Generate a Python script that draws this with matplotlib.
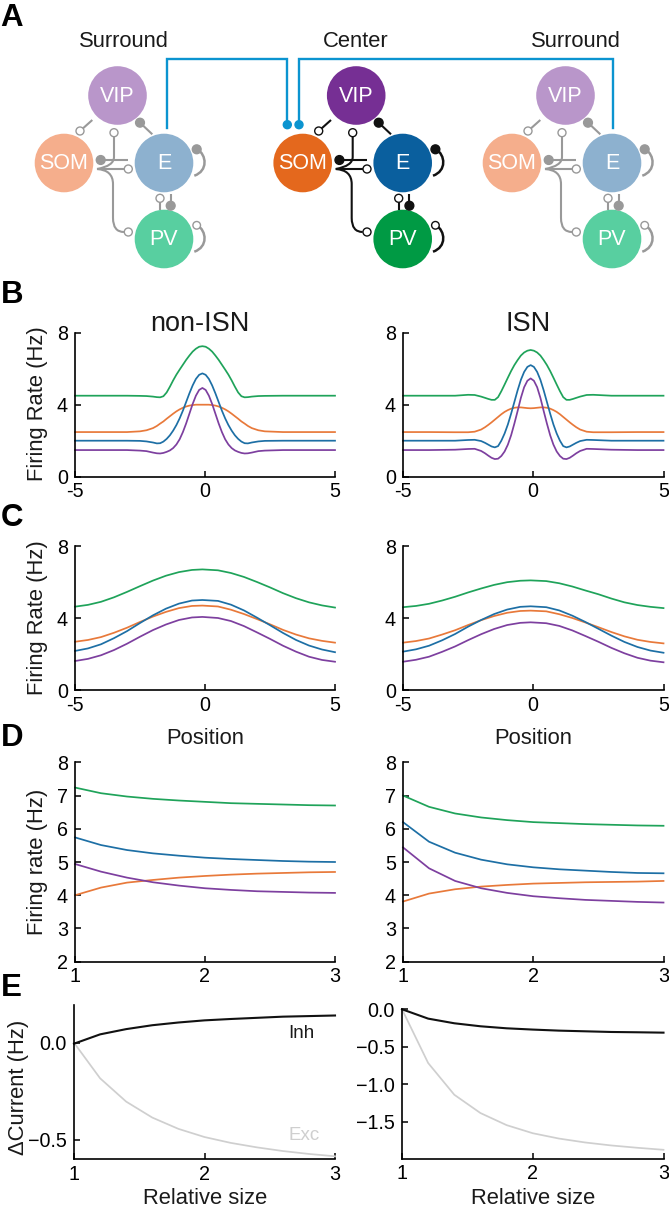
import matplotlib
matplotlib.use('Agg')
import matplotlib.pyplot as plt
from matplotlib.patches import Circle, PathPatch
from matplotlib.path import Path

plt.rcParams['font.family'] = ['Liberation Sans', 'DejaVu Sans']
plt.rcParams['axes.unicode_minus'] = False

W, H = 669, 1210

GREEN = '#1fa35a'
BLUE = '#1d6fa5'
ORANGE = '#e8793a'
PURPLE = '#7d3f9f'

# position profiles, panel B
pos_b = [-5, -4, -3, -2.5, -2.25, -2, -1.85, -1.725, -1.6, -1.475, -1.35, -1.225, -1.1,
         -0.975, -0.85, -0.725, -0.6, -0.475, -0.35, -0.225, -0.1,
         0.025, 0.15, 0.275, 0.4, 0.525, 0.65, 0.775, 0.9, 1.025, 1.15, 1.275, 1.4,
         1.525, 1.65, 1.8, 2.05, 2.3, 3, 4, 5]
b_non_green = [4.5, 4.5, 4.5, 4.49, 4.48, 4.45, 4.42, 4.41, 4.47, 4.68, 5.0, 5.35, 5.67,
               5.95, 6.22, 6.49, 6.73, 6.95, 7.11, 7.22, 7.25,
               7.22, 7.11, 6.95, 6.73, 6.49, 6.22, 5.95, 5.67, 5.35, 5.0, 4.68, 4.47,
               4.41, 4.42, 4.45, 4.48, 4.49, 4.5, 4.5, 4.5]
b_non_blue = [2.0, 2.0, 2.0, 1.99, 1.96, 1.9, 1.85, 1.86, 1.95, 2.1, 2.3, 2.56, 2.87,
              3.24, 3.67, 4.15, 4.63, 5.07, 5.43, 5.66, 5.74,
              5.66, 5.43, 5.07, 4.63, 4.15, 3.67, 3.24, 2.87, 2.56, 2.3, 2.1, 1.95,
              1.86, 1.85, 1.9, 1.96, 1.99, 2.0, 2.0, 2.0]
b_non_purple = [1.48, 1.48, 1.48, 1.45, 1.42, 1.34, 1.3, 1.29, 1.32, 1.38, 1.46, 1.59, 1.79,
                2.08, 2.48, 2.96, 3.5, 4.04, 4.5, 4.82, 4.93,
                4.82, 4.5, 4.04, 3.5, 2.96, 2.48, 2.08, 1.79, 1.59, 1.46, 1.38, 1.32,
                1.29, 1.3, 1.34, 1.42, 1.45, 1.48, 1.48, 1.48]
b_non_orange = [2.48, 2.48, 2.48, 2.52, 2.58, 2.7, 2.82, 2.95, 3.07, 3.22, 3.36, 3.5, 3.63,
                3.74, 3.83, 3.9, 3.95, 3.98, 4.0, 4.0, 4.0,
                4.0, 4.0, 3.98, 3.95, 3.9, 3.83, 3.74, 3.63, 3.5, 3.36, 3.22, 3.07,
                2.95, 2.82, 2.7, 2.58, 2.52, 2.48, 2.48, 2.48]
b_isn_green = [4.5, 4.5, 4.5, 4.55, 4.54, 4.45, 4.38, 4.32, 4.27, 4.27, 4.42, 4.75, 5.12,
               5.5, 5.87, 6.2, 6.48, 6.73, 6.9, 7.0, 7.04,
               7.0, 6.9, 6.73, 6.48, 6.2, 5.87, 5.5, 5.12, 4.75, 4.42, 4.27, 4.27,
               4.32, 4.38, 4.45, 4.54, 4.55, 4.5, 4.5, 4.5]
b_isn_blue = [2.0, 2.0, 2.0, 2.04, 2.05, 1.98, 1.88, 1.78, 1.68, 1.63, 1.7, 2.0, 2.4,
              2.9, 3.5, 4.15, 4.8, 5.38, 5.82, 6.1, 6.2,
              6.1, 5.82, 5.38, 4.8, 4.15, 3.5, 2.9, 2.4, 2.0, 1.7, 1.63, 1.68,
              1.78, 1.88, 1.98, 2.05, 2.04, 2.0, 2.0, 2.0]
b_isn_purple = [1.48, 1.48, 1.5, 1.54, 1.55, 1.43, 1.3, 1.17, 1.05, 0.98, 1.0, 1.15, 1.4,
                1.78, 2.3, 2.95, 3.65, 4.38, 4.97, 5.33, 5.46,
                5.33, 4.97, 4.38, 3.65, 2.95, 2.3, 1.78, 1.4, 1.15, 1.0, 0.98, 1.05,
                1.17, 1.3, 1.43, 1.55, 1.54, 1.5, 1.48, 1.48]
b_isn_orange = [2.48, 2.48, 2.47, 2.47, 2.5, 2.62, 2.75, 2.88, 3.02, 3.17, 3.32, 3.47, 3.6,
                3.7, 3.78, 3.83, 3.85, 3.85, 3.83, 3.81, 3.8,
                3.81, 3.83, 3.85, 3.85, 3.83, 3.78, 3.7, 3.6, 3.47, 3.32, 3.17, 3.02,
                2.88, 2.75, 2.62, 2.5, 2.47, 2.47, 2.48, 2.48]

# position profiles, panel C
pos_c = [-5, -4.5, -4, -3.5, -3, -2.5, -2, -1.5, -1, -0.5, -0.1,
         0.5, 1, 1.5, 2, 2.5, 3, 3.5, 4, 4.5, 5]
c_non_green = [4.63, 4.73, 4.9, 5.15, 5.45, 5.77, 6.08, 6.35, 6.55, 6.67, 6.7,
               6.65, 6.5, 6.28, 6.0, 5.7, 5.38, 5.1, 4.87, 4.7, 4.58]
c_non_blue = [2.17, 2.31, 2.54, 2.88, 3.27, 3.72, 4.15, 4.52, 4.8, 4.97, 5.0,
              4.95, 4.74, 4.42, 4.02, 3.6, 3.17, 2.78, 2.47, 2.25, 2.1]
c_non_orange = [2.68, 2.78, 2.94, 3.18, 3.46, 3.78, 4.08, 4.34, 4.55, 4.67, 4.69,
                4.64, 4.46, 4.22, 3.94, 3.65, 3.34, 3.08, 2.87, 2.73, 2.63]
c_non_purple = [1.61, 1.73, 1.93, 2.22, 2.57, 2.96, 3.33, 3.64, 3.89, 4.03, 4.06,
                4.0, 3.83, 3.55, 3.2, 2.84, 2.46, 2.13, 1.85, 1.67, 1.57]
c_isn_green = [4.6, 4.67, 4.79, 4.97, 5.18, 5.42, 5.64, 5.84, 5.99, 6.07, 6.09,
               6.05, 5.93, 5.75, 5.53, 5.32, 5.08, 4.87, 4.72, 4.62, 4.55]
c_isn_blue = [2.13, 2.26, 2.46, 2.76, 3.11, 3.52, 3.89, 4.22, 4.47, 4.62, 4.65,
              4.6, 4.42, 4.13, 3.78, 3.4, 3.02, 2.67, 2.39, 2.19, 2.07]
c_isn_orange = [2.63, 2.72, 2.86, 3.08, 3.32, 3.61, 3.88, 4.11, 4.29, 4.39, 4.41,
                4.37, 4.21, 4.0, 3.75, 3.49, 3.22, 2.98, 2.79, 2.67, 2.59]
c_isn_purple = [1.57, 1.68, 1.85, 2.12, 2.42, 2.77, 3.1, 3.39, 3.61, 3.73, 3.76,
                3.71, 3.56, 3.31, 3.0, 2.68, 2.34, 2.04, 1.79, 1.63, 1.54]

# relative size curves, panels D and E
size = [1, 1.2, 1.4, 1.6, 1.8, 2, 2.2, 2.4, 2.6, 2.8, 3]
d_non_green = [7.24, 7.07, 6.97, 6.9, 6.85, 6.81, 6.77, 6.75, 6.73, 6.71, 6.7]
d_non_blue = [5.74, 5.51, 5.36, 5.26, 5.19, 5.13, 5.09, 5.06, 5.03, 5.01, 5.0]
d_non_purple = [4.94, 4.71, 4.53, 4.39, 4.29, 4.21, 4.16, 4.12, 4.1, 4.08, 4.07]
d_non_orange = [4.0, 4.23, 4.38, 4.46, 4.53, 4.58, 4.62, 4.65, 4.67, 4.69, 4.7]
d_isn_green = [7.0, 6.66, 6.46, 6.34, 6.26, 6.2, 6.17, 6.14, 6.12, 6.1, 6.09]
d_isn_blue = [6.2, 5.61, 5.28, 5.07, 4.93, 4.84, 4.78, 4.74, 4.7, 4.67, 4.66]
d_isn_purple = [5.44, 4.81, 4.43, 4.21, 4.07, 3.97, 3.91, 3.86, 3.83, 3.8, 3.78]
d_isn_orange = [3.81, 4.05, 4.18, 4.26, 4.31, 4.35, 4.37, 4.39, 4.4, 4.41, 4.43]

e_non_inh = [-0.005, 0.043, 0.07, 0.09, 0.104, 0.115, 0.122, 0.128, 0.134, 0.137, 0.14]
e_non_exc = [0, -0.183, -0.303, -0.385, -0.443, -0.485, -0.515, -0.538, -0.557, -0.572, -0.584]
e_isn_inh = [0, -0.125, -0.187, -0.227, -0.254, -0.271, -0.285, -0.294, -0.303, -0.307, -0.312]
e_isn_exc = [0, -0.717, -1.14, -1.384, -1.545, -1.653, -1.724, -1.776, -1.816, -1.847, -1.874]


fig = plt.figure(figsize=(W / 100, H / 100), dpi=100)

# overlay in pixel coordinates for the diagram and free text
bg = fig.add_axes([0, 0, 1, 1])
bg.set_xlim(0, W)
bg.set_ylim(H, 0)
bg.axis('off')


def make_axes(left, right, top, bottom):
    ax = fig.add_axes([left / W, 1 - bottom / H, (right - left) / W, (bottom - top) / H])
    ax.patch.set_alpha(0)
    ax.spines['top'].set_visible(False)
    ax.spines['right'].set_visible(False)
    ax.spines['left'].set_linewidth(1.2)
    ax.spines['bottom'].set_linewidth(1.2)
    ax.tick_params(axis='y', direction='in', length=4, width=1.1, labelsize=14.2, pad=5)
    ax.tick_params(axis='x', direction='in', length=4, width=1.1, labelsize=14.2, pad=4)
    return ax


def draw_four(ax, x, green, blue, orange, purple):
    ax.plot(x, green, color=GREEN, lw=1.25, clip_on=False)
    ax.plot(x, orange, color=ORANGE, lw=1.25, clip_on=False)
    ax.plot(x, blue, color=BLUE, lw=1.25, clip_on=False)
    ax.plot(x, purple, color=PURPLE, lw=1.25, clip_on=False)


LEFT_X = (75, 335)
RIGHT_X = (403, 663.5)

# panel B
ax = make_axes(LEFT_X[0], LEFT_X[1], 332.7, 476.7)
draw_four(ax, pos_b, b_non_green, b_non_blue, b_non_orange, b_non_purple)
ax.set_xlim(-5, 5)
ax.set_ylim(0, 8)
ax.set_xticks([-5, 0, 5])
ax.set_yticks([0, 4, 8])

ax = make_axes(RIGHT_X[0], RIGHT_X[1], 332.7, 476.7)
draw_four(ax, pos_b, b_isn_green, b_isn_blue, b_isn_orange, b_isn_purple)
ax.set_xlim(-5, 5)
ax.set_ylim(0, 8)
ax.set_xticks([-5, 0, 5])
ax.set_yticks([0, 4, 8])

# panel C
ax = make_axes(LEFT_X[0], LEFT_X[1], 546, 690)
draw_four(ax, pos_c, c_non_green, c_non_blue, c_non_orange, c_non_purple)
ax.set_xlim(-5, 5)
ax.set_ylim(0, 8)
ax.set_xticks([-5, 0, 5])
ax.set_yticks([0, 4, 8])

ax = make_axes(RIGHT_X[0], RIGHT_X[1], 546, 690)
draw_four(ax, pos_c, c_isn_green, c_isn_blue, c_isn_orange, c_isn_purple)
ax.set_xlim(-5, 5)
ax.set_ylim(0, 8)
ax.set_xticks([-5, 0, 5])
ax.set_yticks([0, 4, 8])

# panel D
ax = make_axes(LEFT_X[0], LEFT_X[1], 762.3, 961.7)
draw_four(ax, size, d_non_green, d_non_blue, d_non_orange, d_non_purple)
ax.set_xlim(1, 3)
ax.set_ylim(2, 8)
ax.set_xticks([1, 2, 3])
ax.set_yticks([2, 3, 4, 5, 6, 7, 8])

ax = make_axes(RIGHT_X[0], RIGHT_X[1], 762.3, 961.7)
draw_four(ax, size, d_isn_green, d_isn_blue, d_isn_orange, d_isn_purple)
ax.set_xlim(1, 3)
ax.set_ylim(2, 8)
ax.set_xticks([1, 2, 3])
ax.set_yticks([2, 3, 4, 5, 6, 7, 8])

# panel E
ax = make_axes(LEFT_X[0] - 1, LEFT_X[1], 1005, 1159)
ax.plot(size, e_non_exc, color='#cfcfcf', lw=1.25, clip_on=False)
ax.plot(size, e_non_inh, color='#111111', lw=1.5, clip_on=False)
ax.set_xlim(1, 3)
ax.set_ylim(-0.598, 0.194)
ax.set_xticks([1, 2, 3])
ax.set_yticks([-0.5, 0])
ax.set_yticklabels(['\u22120.5', '0.0'])

ax = make_axes(RIGHT_X[0] - 1, RIGHT_X[1], 1008.5, 1158.5)
ax.plot(size, e_isn_exc, color='#cfcfcf', lw=1.25, clip_on=False)
ax.plot(size, e_isn_inh, color='#111111', lw=1.5, clip_on=False)
ax.set_xlim(1, 3)
ax.set_ylim(-1.99, 0.01)
ax.set_xticks([1, 2, 3])
ax.set_yticks([-1.5, -1, -0.5, 0])
ax.set_yticklabels(['\u22121.5', '\u22121.0', '\u22120.5', '0.0'])


# free text
def label(x, y, s, size=15.8, **kw):
    kw.setdefault('color', '#1a1a1a')
    bg.text(x, y, s, fontsize=size, ha='center', va='center', **kw)


for s, x, y in [('A', 12, 18), ('B', 12, 295), ('C', 12, 518), ('D', 12, 738), ('E', 11, 988)]:
    label(x, y, s, size=22.5, fontweight='bold', color='black')

label(124, 41.5, 'Surround')
label(356, 41.5, 'Center')
label(576, 41.5, 'Surround')
label(200, 324, 'non-ISN', size=19.5)
label(528, 324, 'ISN', size=19.5)
label(205, 738, 'Position')
label(533, 738, 'Position')
label(205, 1198, 'Relative size')
label(533, 1198, 'Relative size')
label(38, 404, 'Firing Rate (Hz)', rotation=90)
label(38, 617.5, 'Firing Rate (Hz)', rotation=90)
label(38, 862, 'Firing rate (Hz)', rotation=90)
label(19, 1087, '\u0394Current (Hz)', rotation=90)
label(301.5, 1034, 'Inh', size=13.5)
label(304, 1136, 'Exc', size=13.5, color='#cfcfcf')


# circuit diagram, group offset from the left surround
def dot(x, y, color, filled=True, r=4.0):
    face = color if filled else 'white'
    bg.add_patch(Circle((x, y), r, facecolor=face, edgecolor=color, lw=1.0, zorder=5))


def wire(verts, codes, color, lw=1.5):
    bg.add_patch(PathPatch(Path(verts, codes), facecolor='none', edgecolor=color, lw=lw,
                           capstyle='butt', zorder=4))


def straight(x0, y0, x1, y1, color, lw=1.5):
    wire([(x0, y0), (x1, y1)], [Path.MOVETO, Path.LINETO], color, lw)


def self_loop(dx, dy, color, filled):
    y = 163 + dy
    wire([(194.3 + dx, y + 12.7), (208 + dx, y + 8), (207 + dx, y - 8), (197 + dx, y - 14)],
         [Path.MOVETO, Path.CURVE4, Path.CURVE4, Path.CURVE4], color, 1.8)
    dot(196.7 + dx, y - 13.7, color, filled, 4.4 if filled else 3.8)


def circuit(dx, fills, wire_color):
    for name, x, y, c in [('VIP', 117.5, 95.5, fills[0]), ('SOM', 64, 163, fills[1]),
                          ('E', 164, 163, fills[2]), ('PV', 164, 239, fills[3])]:
        bg.add_patch(Circle((x + dx, y), 29.3, facecolor=c, edgecolor='none', zorder=3))
        bg.text(x + dx, y + 0.5, name, color='white', fontsize=15.5, ha='center', va='center', zorder=6)

    # VIP to SOM, E to VIP
    straight(92.3 + dx, 120, 80 + dx, 131, wire_color)
    dot(80 + dx, 131, wire_color, False)
    straight(152.3 + dx, 134.3, 140 + dx, 122.7, wire_color)
    dot(140 + dx, 122.7, wire_color, True, 4.4)

    # VIP to E, crossing down to the SOM output
    wire([(114 + dx, 132.7), (114 + dx, 157), (114 + dx, 166), (97 + dx, 169)],
         [Path.MOVETO, Path.LINETO, Path.CURVE3, Path.CURVE3], wire_color)
    dot(114 + dx, 132.7, wire_color, False)

    # E to SOM, SOM to E
    straight(128.3 + dx, 160, 100.7 + dx, 160, wire_color)
    dot(100.7 + dx, 160, wire_color, True, 4.4)
    straight(97 + dx, 169, 124 + dx, 169, wire_color)
    dot(128.3 + dx, 169, wire_color, False)

    # SOM to PV
    wire([(97 + dx, 169), (113 + dx, 170), (113 + dx, 184), (113 + dx, 218),
          (113 + dx, 232), (124 + dx, 232)],
         [Path.MOVETO, Path.CURVE3, Path.CURVE3, Path.LINETO, Path.CURVE3, Path.CURVE3], wire_color)
    dot(128.3 + dx, 232, wire_color, False)

    # E and PV
    straight(170.7 + dx, 194, 170.7 + dx, 205, wire_color)
    dot(170.7 + dx, 205.7, wire_color, True, 4.4)
    straight(160 + dx, 210, 160 + dx, 202, wire_color)
    dot(160 + dx, 198.3, wire_color, False)

    self_loop(dx, 0, wire_color, True)
    self_loop(dx, 76, wire_color, False)


surround_fills = ['#b996ca', '#f5ae8c', '#8db1cf', '#58cfa0']
center_fills = ['#762f94', '#e4681d', '#0a5f9e', '#009a44']
circuit(0, surround_fills, '#999999')
circuit(238.7, center_fills, '#111111')
circuit(448, surround_fills, '#999999')

# long range connections
LONG = '#0b94d0'
bg.plot([166.7, 166.7, 287.3, 287.3], [128, 59.3, 59.3, 124.7], color=LONG, lw=1.7, zorder=2,
        solid_joinstyle='miter')
bg.plot([299, 299, 613, 613], [124.7, 59.3, 59.3, 128], color=LONG, lw=1.7, zorder=2,
        solid_joinstyle='miter')
dot(287.3, 124.7, LONG, True)
dot(299, 124.7, LONG, True)

fig.savefig('out.png', dpi=100)
